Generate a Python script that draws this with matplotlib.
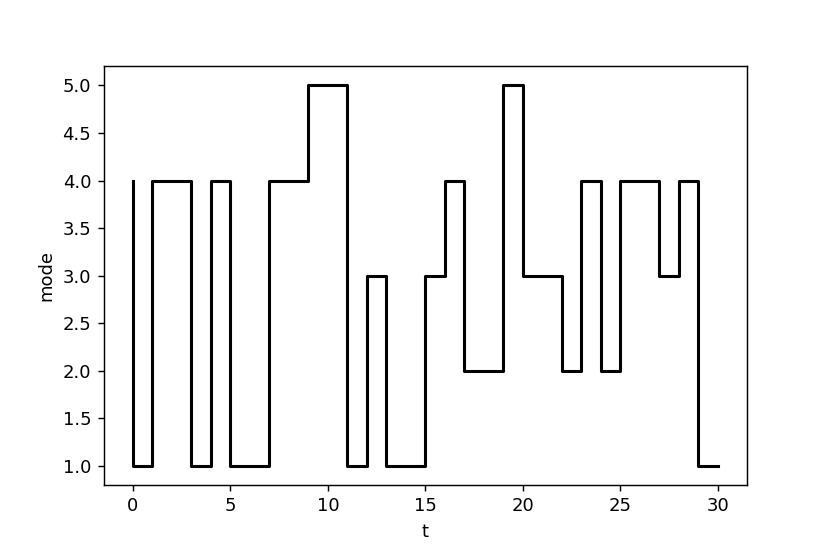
import matplotlib
matplotlib.use("Agg")
import matplotlib.pyplot as plt
import matplotlib.ticker as mticker

t = list(range(31))
mode = [4, 1, 4, 4, 1, 4, 1, 1, 4, 4, 5, 5, 1, 3, 1, 1, 3, 4, 2, 2,
        5, 3, 3, 2, 4, 2, 4, 4, 3, 4, 1]

DPI = 830 / 6.4
fig, ax = plt.subplots(figsize=(6.4, 554 / DPI), dpi=DPI)
fig.subplots_adjust(left=0.125, right=0.9, top=0.88, bottom=0.125)
ax.step(t, mode, where='pre', color='black', linewidth=1.7)
ax.set_xlabel('t')
ax.set_ylabel('mode')
ax.yaxis.set_major_formatter(mticker.FormatStrFormatter('%.1f'))
fig.savefig('out.png', dpi=DPI)
